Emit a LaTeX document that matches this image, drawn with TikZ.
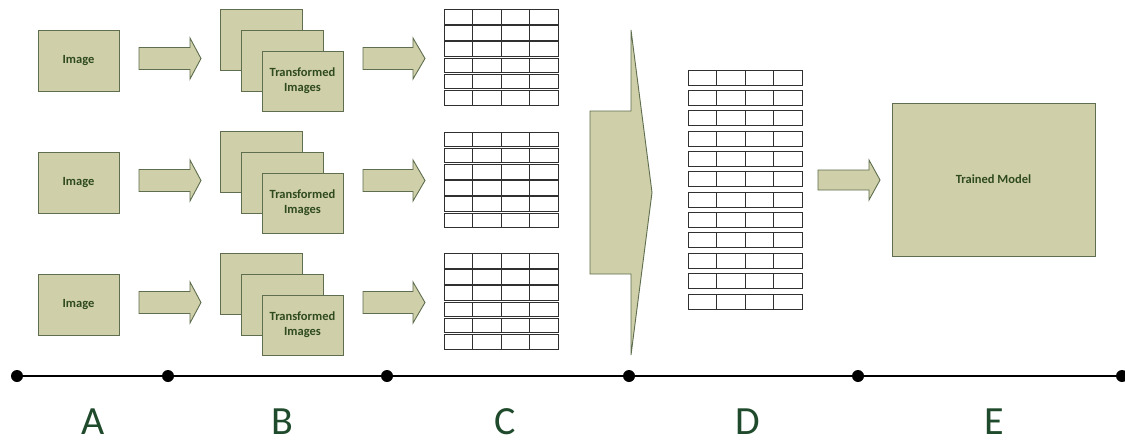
\documentclass[tikz,border=0pt]{standalone}
\usepackage{fontspec}
\setmainfont{Carlito}
\definecolor{boxfill}{HTML}{CFCFA9}
\definecolor{boxdraw}{HTML}{5E6E4E}
\definecolor{txtgreen}{HTML}{2F4A1E}
\definecolor{lettergreen}{HTML}{1F4B2C}
\definecolor{gridline}{HTML}{303030}
\newcommand\blkarrow[6]{% x0, xhead, xtip, ycenter, shaft half, head half
  \draw[blockarrow] (#1,#4-#5) -- (#2,#4-#5) -- (#2,#4-#6) -- (#3,#4)
    -- (#2,#4+#6) -- (#2,#4+#5) -- (#1,#4+#5) -- cycle;}
\newcommand\datatable[5]{% x0, y0, rows, pitch, row height
  \foreach \r in {1,...,#3}{
    \foreach \c in {0,...,3}{
      \draw[cell] ({#1+\c*28.5},{#2+(\r-1)*#4}) rectangle ++(28.5,#5);
    }
  }}
\begin{document}
\begin{tikzpicture}[x=1pt,y=-1pt,
  box/.style={draw=boxdraw,fill=boxfill,line width=1pt,inner sep=0pt,outer sep=0pt},
  boxtext/.style={text=txtgreen,font=\bfseries\fontsize{12.5}{15}\selectfont,align=center},
  blockarrow/.style={draw=boxdraw,fill=boxfill,line width=0.9pt,line join=miter},
  cell/.style={draw=gridline,line width=0.9pt,fill=white},
  dot/.style={circle,fill=black,minimum size=12pt,inner sep=0pt},
  letter/.style={text=lettergreen,inner sep=0pt,font=\fontsize{40}{44}\selectfont}]
\useasboundingbox[fill=white] (0,0) rectangle (1125,442);

% ---- three rows ----
\foreach \i/\dy in {1/0,2/122,3/244}{
  \node[box,boxtext,minimum width=81pt,minimum height=61pt] (img\i) at (78.5,60.5+\dy) {Image};
  \blkarrow{139}{190}{201}{58.5+\dy}{11}{20.5}
  \node[box,minimum width=82pt,minimum height=61pt] (back\i) at (261,39.5+\dy) {};
  \node[box,minimum width=82pt,minimum height=61pt] (mid\i) at (282,60.5+\dy) {};
  \node[box,boxtext,minimum width=81pt,minimum height=60pt] (front\i) at (302.5,81+\dy) {Transformed\\Images};
  \blkarrow{363}{413}{425}{58.5+\dy}{11}{20.5}
}

% ---- tables C ----
\datatable{444}{9.5}{6}{16.2}{14.6}
\datatable{444}{132}{6}{16.2}{14.6}
\datatable{444}{253.5}{6}{16.2}{14.6}

% ---- big merge arrow ----
\draw[blockarrow] (590,111) -- (631,111) -- (631,30) -- (652,192.5)
  -- (631,355) -- (631,274) -- (590,274) -- cycle;

% ---- table D ----
\datatable{688}{70}{12}{20.36}{15}

% ---- arrow to model ----
\blkarrow{818}{869}{880}{180}{10}{20}

% ---- trained model ----
\node[box,boxtext,minimum width=203pt,minimum height=153pt] (model) at (993.5,179.5) {Trained Model};

% ---- timeline ----
\node[dot] (t0) at (17,376) {};
\node[dot] (t1) at (168,376) {};
\node[dot] (t2) at (387,376) {};
\node[dot] (t3) at (629,376) {};
\node[dot] (t4) at (858,376) {};
\node[dot] (t5) at (1122,376) {};
\draw[line width=1.1pt] (t0.center) -- (t1.center) -- (t2.center) -- (t3.center) -- (t4.center) -- (t5.center);

\node[letter] (la) at (93,422) {A};
\node[letter] (lb) at (282,422) {B};
\node[letter] (lc) at (505,422) {C};
\node[letter] (ld) at (748,422) {D};
\node[letter] (le) at (994,422) {E};
\end{tikzpicture}
\end{document}
